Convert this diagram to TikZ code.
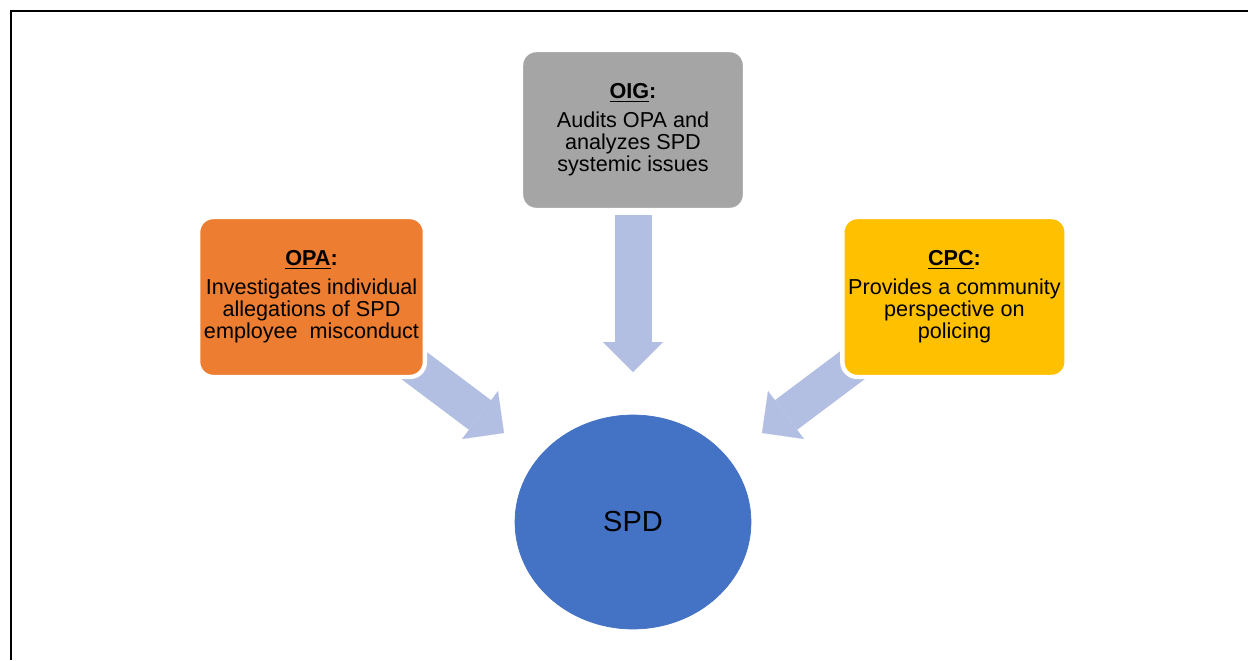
\documentclass[tikz,border=0pt]{standalone}
\usepackage{fontspec}
\setmainfont{Liberation Sans}
\usepackage{xcolor}
\usetikzlibrary{arrows.meta}
\usetikzlibrary{shapes.geometric}

\definecolor{oigGray}{HTML}{A5A5A5}
\definecolor{opaOrange}{HTML}{ED7D31}
\definecolor{cpcYellow}{HTML}{FFC000}
\definecolor{spdBlue}{HTML}{4472C4}
\definecolor{arrowBlue}{RGB}{178,191,226}

\tikzset{
    agency/.style = {rectangle, rounded corners = 0.3cm, draw = white,
        line width = 2.5pt, minimum width = 4.48cm, minimum height = 3.2cm,
        align = center, text = black, font = \fontsize{12.3}{12.5}\selectfont},
    bigarrow/.style = {draw = arrowBlue, line width = 0.74cm,
        -{Triangle[length = 0.6cm, width = 1.2cm, line width = 0.1pt]}}
}

\begin{document}
\begin{tikzpicture}[x = 0.02cm, y = -0.02cm]
        \useasboundingbox (0, 0) rectangle (1248, 660);
        \draw [line width = 1.2pt] (1248, 11) -- (11, 11) -- (11, 660);

        \coordinate (oigTail) at (633, 215);
        \coordinate (oigTip) at (633, 372);
        \coordinate (opaTail) at (400, 355);
        \coordinate (opaTip) at (504, 433);
        \coordinate (cpcTail) at (866, 355);
        \coordinate (cpcTip) at (762, 433);

        \draw [bigarrow] (oigTail) -- (oigTip);
        \draw [bigarrow] (opaTail) -- (opaTip);
        \draw [bigarrow] (cpcTail) -- (cpcTip);

        \node [agency, fill = oigGray] (oig) at (633, 130)
            {\underline{\textbf{OIG}}\textbf{:}\\[4pt]
            Audits OPA and\\ analyzes SPD\\ systemic issues};
        \node [agency, fill = opaOrange] (opa) at (311.5, 297)
            {\underline{\textbf{OPA}}\textbf{:}\\[4pt]
            Investigates individual\\ allegations of SPD\\ employee\ \ misconduct};
        \node [agency, fill = cpcYellow] (cpc) at (954.5, 297)
            {\underline{\textbf{CPC}}\textbf{:}\\[4pt]
            Provides a community\\ perspective on\\ policing};

        \node [ellipse, fill = spdBlue, draw = spdBlue, inner sep = 0pt,
            minimum width = 4.72cm, minimum height = 4.28cm,
            font = \fontsize{16.5}{19}\selectfont] (spd) at (633, 522) {SPD};
\end{tikzpicture}
\end{document}
